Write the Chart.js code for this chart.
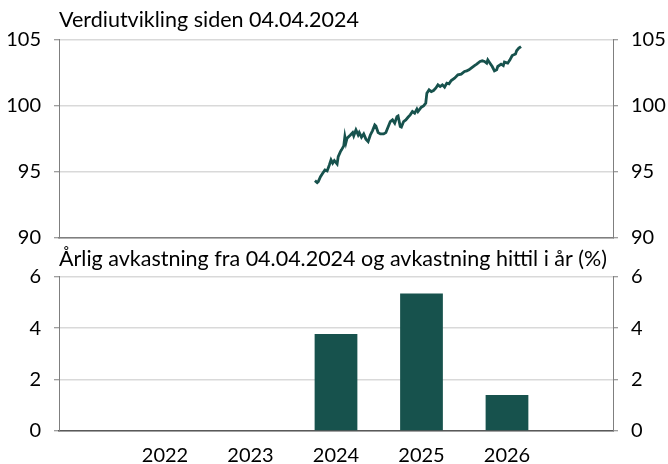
<!DOCTYPE html>
<html>
  <head>
    <meta charset="utf-8" />
    <title>Verdiutvikling</title>
    <script src="https://cdn.jsdelivr.net/npm/chart.js@4/dist/chart.umd.min.js"></script>
    <style>
      html, body { margin: 0; padding: 0; background: #fff; overflow: hidden; }
      body { width: 668px; height: 464px; position: relative; }
      #top { position: absolute; left: 0; top: 0; }
      #bottom { position: absolute; left: 0; top: 246px; }
    </style>
  </head>
  <body>
    <canvas id="top" width="668" height="263"></canvas>
    <canvas id="bottom" width="668" height="250"></canvas>
    <script>
      // Verdiutvikling (indeks), x = år som desimaltall
      const lineX = [
        2024.31, 2024.33, 2024.34, 2024.36, 2024.38, 2024.40, 2024.42, 2024.44,
        2024.455, 2024.47, 2024.485, 2024.51, 2024.52, 2024.54, 2024.55, 2024.57,
        2024.58, 2024.59, 2024.60, 2024.63, 2024.65, 2024.66, 2024.68, 2024.70,
        2024.71, 2024.73, 2024.75, 2024.77, 2024.79, 2024.81, 2024.83, 2024.85,
        2024.86, 2024.88, 2024.90, 2024.93, 2024.95, 2024.99, 2025.01, 2025.03,
        2025.05, 2025.06, 2025.08, 2025.09, 2025.11, 2025.13, 2025.15, 2025.17,
        2025.19, 2025.21, 2025.23, 2025.24, 2025.27, 2025.29, 2025.31, 2025.32,
        2025.34, 2025.36, 2025.38, 2025.40, 2025.42, 2025.44, 2025.46, 2025.48,
        2025.50, 2025.52, 2025.54, 2025.57, 2025.60, 2025.63, 2025.66, 2025.68,
        2025.70, 2025.72, 2025.75, 2025.77, 2025.80, 2025.82, 2025.84, 2025.86,
        2025.87, 2025.89, 2025.91, 2025.93, 2025.95, 2025.96, 2025.99, 2026.01,
        2026.02, 2026.05, 2026.07, 2026.09, 2026.12, 2026.13, 2026.15, 2026.17
      ];
      const lineY = [
        94.34, 94.19, 94.27, 94.64, 94.90, 95.15, 95.08, 95.53,
        95.91, 95.66, 95.86, 95.61, 96.16, 96.54, 96.67, 96.97,
        97.67, 97.22, 97.55, 97.80, 97.98, 97.73, 98.18, 97.80,
        97.98, 97.63, 97.88, 97.48, 97.30, 97.80, 98.13, 98.56,
        98.48, 97.98, 97.88, 97.88, 97.98, 98.81, 98.94, 98.69,
        99.19, 99.24, 98.43, 98.39, 98.81, 98.94, 99.14, 99.32,
        99.57, 99.45, 99.75, 99.57, 99.90, 100.00, 100.20, 100.96,
        101.21, 101.08, 101.16, 101.34, 101.59, 101.46, 101.59, 101.42,
        101.72, 101.67, 101.92, 102.10, 102.35, 102.40, 102.60, 102.65,
        102.73, 102.86, 103.05, 103.16, 103.36, 103.41, 103.36, 103.23,
        103.48, 103.23, 102.98, 102.65, 102.73, 102.98, 103.16, 103.05,
        103.31, 103.23, 103.48, 103.81, 103.92, 104.17, 104.37, 104.49
      ];
      const topTicks = [90, 95, 100, 105];

      // Årlig avkastning (%)
      const years = [2022, 2023, 2024, 2025, 2026];
      const returns = [0, 0, 3.77, 5.35, 1.40];
      const bottomTicks = [0, 2, 4, 6];

      const green = "#17524d";
      const gridGray = "#d9d9d9";
      const axisGray = "#7f7f7f";
      Chart.defaults.font.family = "Lato, 'Open Sans', sans-serif";
      Chart.defaults.color = "#000";

      function yAxis(side, min, max, step, drawGrid) {
        return {
          type: "linear",
          position: side,
          min: min,
          max: max,
          afterFit: (scale) => { scale.width = side === "left" ? 59 : 55; },
          ticks: { stepSize: step, padding: 13, font: { size: 20 } },
          grid: {
            drawOnChartArea: drawGrid,
            color: gridGray,
            lineWidth: 1.5,
            tickLength: 5,
            tickColor: axisGray,
            tickWidth: 1,
          },
          border: { display: true, color: axisGray, width: 1 },
        };
      }

      new Chart(document.getElementById("top"), {
        type: "line",
        data: {
          datasets: [
            {
              data: lineX.map((x, i) => ({ x: x, y: lineY[i] })),
              borderColor: green,
              borderWidth: 2.8,
              pointRadius: 0,
              tension: 0,
              yAxisID: "y",
            },
          ],
        },
        options: {
          responsive: false,
          animation: false,
          layout: { padding: { top: 2, bottom: 0, left: 0, right: 0 } },
          plugins: {
            legend: { display: false },
            tooltip: { enabled: false },
            title: {
              display: true,
              text: "Verdiutvikling siden 04.04.2024",
              align: "start",
              fullSize: false,
              font: { size: 21.5, weight: "normal" },
              padding: { top: 5, bottom: 7 },
            },
          },
          scales: {
            x: {
              type: "linear",
              min: 2022,
              max: 2027,
              ticks: { display: false },
              grid: { display: false, drawTicks: false },
              border: { display: true, color: axisGray, width: 1.5 },
            },
            y: yAxis("left", topTicks[0], topTicks[topTicks.length - 1], 5, true),
            y2: yAxis("right", topTicks[0], topTicks[topTicks.length - 1], 5, false),
          },
        },
      });

      new Chart(document.getElementById("bottom"), {
        type: "bar",
        data: {
          datasets: [
            {
              data: years.map((y, i) => ({ x: y, y: returns[i] })),
              backgroundColor: green,
              barPercentage: 0.5,
              categoryPercentage: 1,
              yAxisID: "y",
            },
          ],
        },
        options: {
          responsive: false,
          animation: false,
          layout: { padding: { top: 0, bottom: 15, left: 0, right: 0 } },
          plugins: {
            legend: { display: false },
            tooltip: { enabled: false },
            title: {
              display: true,
              text: "Årlig avkastning fra 04.04.2024 og avkastning hittil i år (%)",
              align: "start",
              fullSize: false,
              font: { size: 21.5, weight: "normal" },
              padding: { top: 0, bottom: 5 },
            },
          },
          scales: {
            x: {
              type: "linear",
              offset: false,
              min: 2020.76,
              max: 2027.24,
              afterBuildTicks: (scale) => {
                scale.ticks = years.map((v) => ({ value: v }));
              },
              ticks: {
                padding: 13,
                font: { size: 20 },
                callback: (v) => String(v),
              },
              grid: { display: false, drawTicks: false },
              border: { display: true, color: "#595959", width: 1.5 },
            },
            y: yAxis("left", bottomTicks[0], bottomTicks[bottomTicks.length - 1], 2, true),
            y2: yAxis("right", bottomTicks[0], bottomTicks[bottomTicks.length - 1], 2, false),
          },
        },
      });
    </script>
  </body>
</html>
